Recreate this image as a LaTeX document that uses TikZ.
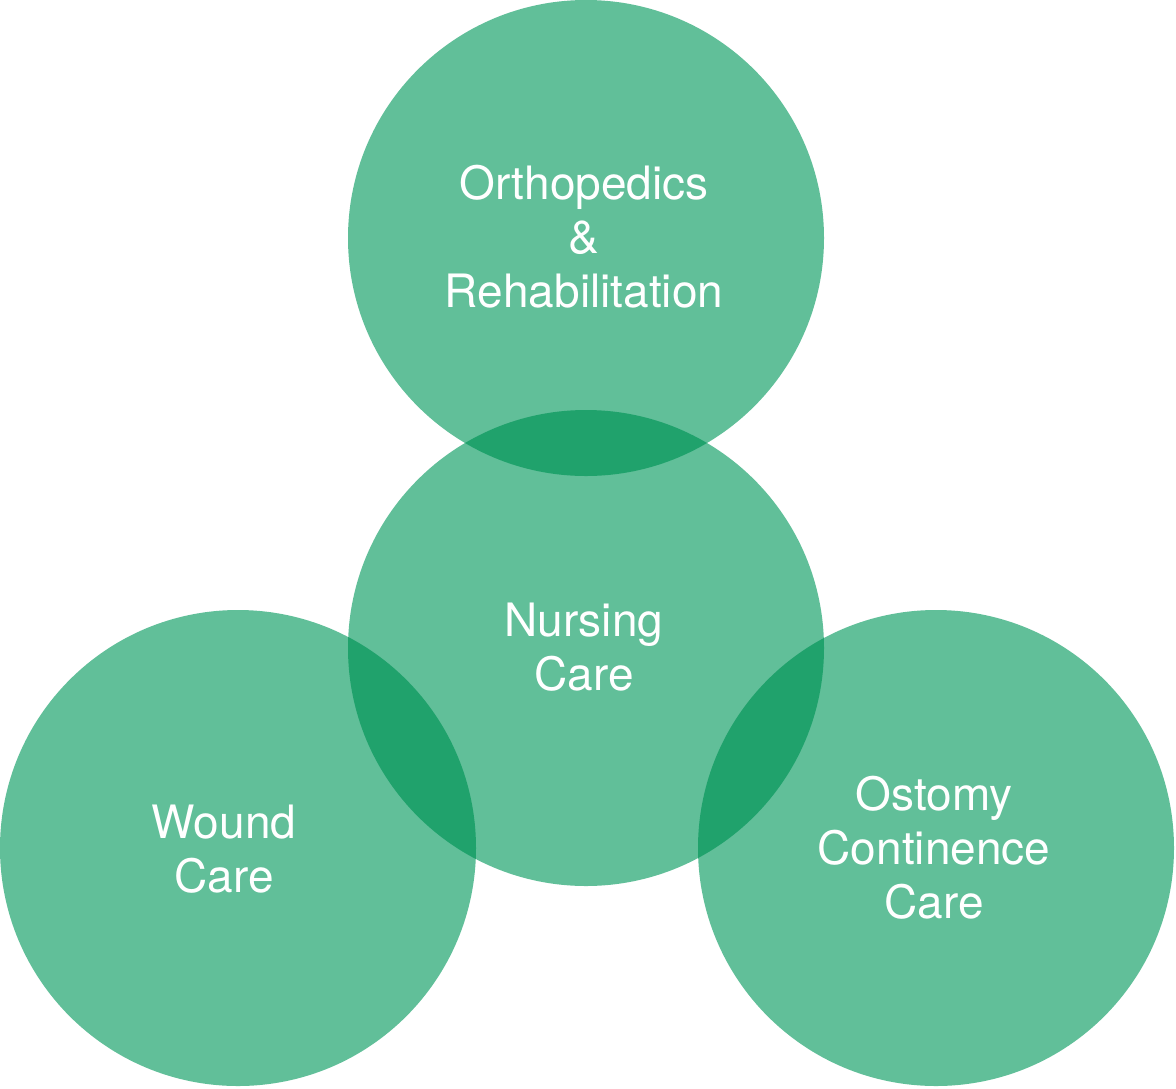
\documentclass[tikz,border=0pt]{standalone}
\usepackage{fontspec}
\setmainfont{TeX Gyre Heros}
\definecolor{lightg}{HTML}{61BF99}
\definecolor{darkg}{HTML}{20A26C}
\begin{document}
\begin{tikzpicture}[x=1pt,y=-1pt,
  bubble/.style={circle,fill=lightg,draw=none,inner sep=0pt,minimum size=476pt},
  lbl/.style={text=white,align=center,font=\fontsize{46}{54}\selectfont,inner sep=0pt}]
\useasboundingbox (0,0) rectangle (1176,1088);
\node[bubble] (top) at (586,238) {};
\node[bubble] (mid) at (586,648) {};
\node[bubble] (left) at (238,848) {};
\node[bubble] (right) at (936,848) {};
\begin{scope}
  \clip (586,238) circle (238pt);
  \fill[darkg] (586,648) circle (238pt);
\end{scope}
\begin{scope}
  \clip (586,648) circle (238pt);
  \fill[darkg] (238,848) circle (238pt);
\end{scope}
\begin{scope}
  \clip (586,648) circle (238pt);
  \fill[darkg] (936,848) circle (238pt);
\end{scope}
\node[lbl] (toplbl) at (584,237) {Orthopedics\\\&\\Rehabilitation};
\node[lbl] (midlbl) at (584,647) {Nursing\\Care};
\node[lbl] (leftlbl) at (224,849) {Wound\\Care};
\node[lbl] (rightlbl) at (934,848) {Ostomy\\Continence\\Care};
\end{tikzpicture}
\end{document}
